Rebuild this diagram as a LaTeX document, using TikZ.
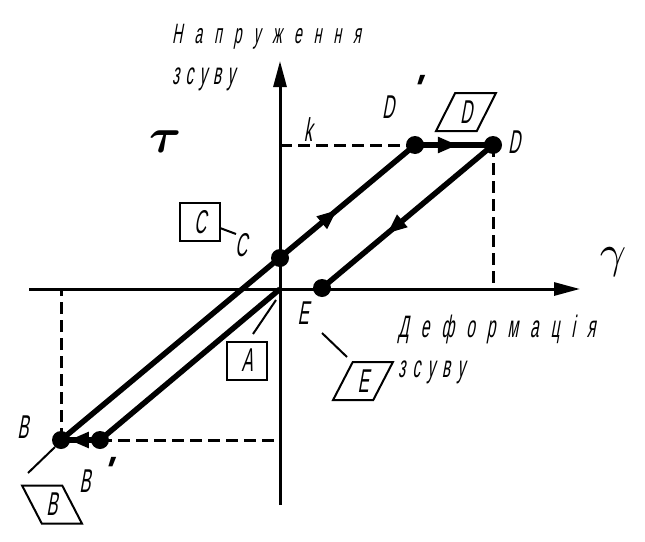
\documentclass[tikz,border=0pt]{standalone}
\usepackage{amsmath,bm}
\usepackage{fontspec}
\usetikzlibrary{arrows.meta,shapes.geometric,decorations.markings}
\newfontfamily\gost[FakeSlant=0.18,FakeStretch=0.5]{Liberation Sans}
\newfontfamily\gostb[FakeSlant=0.35]{Liberation Sans Bold}
\begin{document}
\begin{tikzpicture}[x=1pt,y=-1pt,
  axis/.style={line width=3pt,-{Triangle[length=26pt,width=13pt]}},
  curve/.style={line width=5.5pt},
  guide/.style={line width=3pt,dash pattern=on 12pt off 6pt},
  dot/.style={circle,fill=black,inner sep=0pt,minimum size=18pt},
  lbl/.style={font=\gost\fontsize{33}{33}\selectfont,inner sep=0pt},
  primemark/.style={anchor=base west,font=\gostb\fontsize{38}{38}\selectfont,inner sep=0pt},
  sqbox/.style={draw,line width=2pt,minimum width=40pt,minimum height=38pt,inner sep=0pt,font=\gost\fontsize{33}{33}\selectfont},
  pbox/.style={trapezium,draw,line width=2pt,trapezium stretches=true,minimum width=60pt,minimum height=38pt,inner sep=0pt,font=\gost\fontsize{33}{33}\selectfont},
  leader/.style={line width=2pt},
  arrowat/.style={postaction={decorate},decoration={markings,mark=at position #1 with {\arrow{Triangle[length=20pt,width=15pt]}}}},
  words/.style={anchor=base west,inner sep=0pt,font=\gost\fontsize{#1}{#1}\selectfont}
]
\useasboundingbox (0,0) rectangle (645,541);

% key points
\coordinate (O) at (280,289);
\coordinate (ytop) at (280,61);
\coordinate (ybot) at (280,505);
\coordinate (xl) at (29,289);
\coordinate (xr) at (580,289);
\coordinate (K) at (280,145);

% axes
\draw[axis] (ybot) -- (ytop);
\draw[axis] (xl) -- (xr);

% points
\node[dot] (C) at (280,258) {};
\node[dot] (E) at (322,288) {};
\node[dot] (Dp) at (415,145) {};
\node[dot] (D) at (493,145) {};
\node[dot] (B) at (61,440) {};
\node[dot] (Bp) at (100,440) {};

% dashed guides
\draw[guide] (K) -- (Dp.center);
\draw[guide] (D.center) -- (D.center |- O);
\draw[guide] (B.center) -- (B.center |- O);
\draw[guide] (Bp.center) -- (Bp.center -| O);

% loop
\draw[curve,arrowat=0.78] (B.center) -- (Dp.center);
\draw[curve,arrowat=0.55] (Dp.center) -- (D.center);
\draw[curve,arrowat=0.62] (D.center) -- (E.center);
\draw[curve] (Bp.center) -- (O);
\draw[curve,arrowat=0.8] (Bp.center) -- (B.center);

% axis titles
\node[words=28] (t1) at (172,43) {\spaceskip=12pt Н а п р у ж е н н я};
\node[words=31] (t2) at (172,84) {\spaceskip=6pt з с у в у};
\node[words=31] (t3) at (398,337) {\spaceskip=12pt Д е ф о р м а ц і я};
\node[words=31] (t4) at (398,377) {\spaceskip=7pt з с у в у};
\node[inner sep=0pt] (tau) at (166,142) {\scalebox{4.9}{$\bm{\tau}$}};
\node[inner sep=0pt] (gam) at (613,262) {\scalebox{4.6}{$\gamma$}};

% point labels
\node[lbl] (kl) at (308,130) {k};
\node[lbl] (Dpl) at (388,107) {D};
\node[primemark] (pr1) at (409,101) {\textquotesingle};
\node[lbl] (Dl) at (514,142) {D};
\node[lbl] (Cl) at (241,245) {C};
\node[lbl] (El) at (303,313) {E};
\node[lbl] (Bl1) at (23,427) {B};
\node[lbl] (Bl2) at (85,481) {B};
\node[primemark] (pr2) at (100,483) {\textquotesingle};

% boxes
\node[sqbox] (Cb) at (200,222) {C};
\node[sqbox] (Ab) at (247,360.5) {A};
\node[pbox,trapezium left angle=65,trapezium right angle=115] (Db) at (466,112) {D};
\node[pbox,trapezium left angle=65,trapezium right angle=115] (Eb) at (363,381) {E};
\node[pbox,trapezium left angle=115,trapezium right angle=65] (Bb) at (52,504.5) {B};

% leaders
\coordinate (cl1) at (220,228);
\coordinate (cl2) at (236,234);
\draw[leader] (cl1) -- (cl2);
\coordinate (al1) at (253,334);
\coordinate (al2) at (276,300);
\draw[leader] (al1) -- (al2);
\coordinate (el1) at (322,333);
\coordinate (el2) at (347,357);
\draw[leader] (el1) -- (el2);
\coordinate (bl1) at (28,473);
\coordinate (bl2) at (55,447);
\draw[leader] (bl1) -- (bl2);
\end{tikzpicture}
\end{document}
